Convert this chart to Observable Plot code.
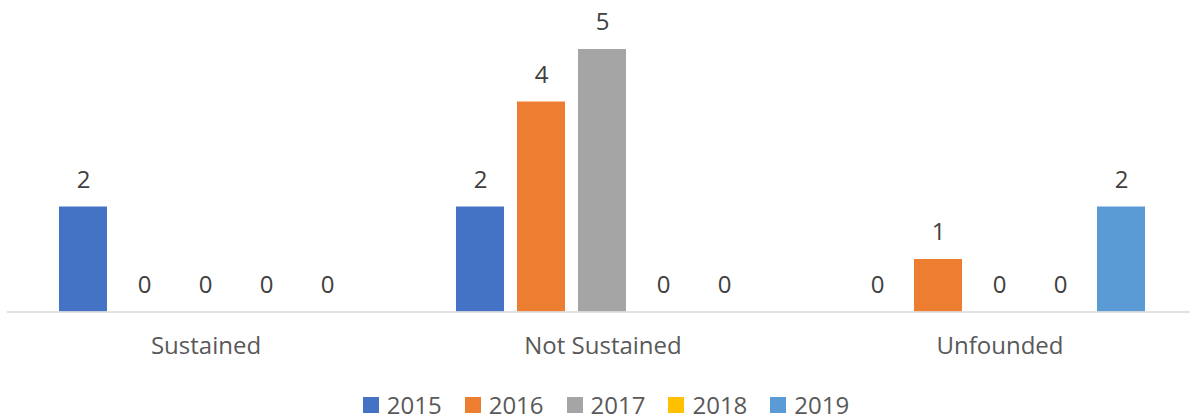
<!DOCTYPE html>
<html>
<head>
<meta charset="utf-8">
<script src="https://cdn.jsdelivr.net/npm/d3@7"></script>
<script src="https://cdn.jsdelivr.net/npm/@observablehq/plot@0.6"></script>
<style>
  html, body { margin: 0; padding: 0; background: #fff; overflow: hidden; }
  #chart svg { display: block; }
  #legend { width: 1212px; display: flex; justify-content: center; gap: 23px; padding-top: 10px;
            font-family: "Open Sans", sans-serif; font-size: 24px; line-height: 30px; color: #595959; }
  #legend .item { display: flex; align-items: center; }
  #legend .sw { width: 16px; height: 16px; margin-right: 8px; }
</style>
</head>
<body>
<div id="chart"></div>
<div id="legend"></div>
<script>
const categories = ["Sustained", "Not Sustained", "Unfounded"];
const years = ["2015", "2016", "2017", "2018", "2019"];
const colors = ["#4472C4", "#ED7D31", "#A5A5A5", "#FFC000", "#5B9BD5"];
const v2015 = [2, 2, 0];
const v2016 = [0, 4, 1];
const v2017 = [0, 5, 0];
const v2018 = [0, 0, 0];
const v2019 = [0, 0, 2];
const series = [v2015, v2016, v2017, v2018, v2019];

const rows = [];
categories.forEach((c, i) => {
  years.forEach((y, j) => rows.push({category: c, year: y, value: series[j][i]}));
});

const chart = Plot.plot({
  width: 1190,
  height: 380,
  marginLeft: 6,
  marginRight: -8,
  marginTop: 0,
  marginBottom: 68.5,
  style: {fontFamily: "Open Sans, sans-serif", background: "#fff"},
  fx: {domain: categories, padding: 0, label: null},
  x: {domain: years, paddingInner: 0.21, paddingOuter: 0.855, axis: null},
  y: {domain: [0, 6], range: [311.5, -3.5], axis: null},
  color: {domain: years, range: colors},
  marks: [
    Plot.barY(rows, {fx: "category", x: "year", y: "value", fill: "year"}),
    Plot.ruleY([0], {stroke: "#D9D9D9", strokeWidth: 1.5}),
    Plot.text(rows, {fx: "category", x: "year", y: "value", text: d => String(d.value),
      dy: -27, fontSize: 24, fill: "#404040", lineAnchor: "middle"}),
    Plot.axisFx({anchor: "bottom", tickSize: 0, tickPadding: 25, fontSize: 24,
      color: "#595959", label: null})
  ]
});
document.getElementById("chart").appendChild(chart);

const legend = document.getElementById("legend");
years.forEach((y, j) => {
  const item = document.createElement("div");
  item.className = "item";
  const sw = document.createElement("span");
  sw.className = "sw";
  sw.style.background = colors[j];
  const t = document.createElement("span");
  t.textContent = y;
  item.appendChild(sw);
  item.appendChild(t);
  legend.appendChild(item);
});
</script>
</body>
</html>
